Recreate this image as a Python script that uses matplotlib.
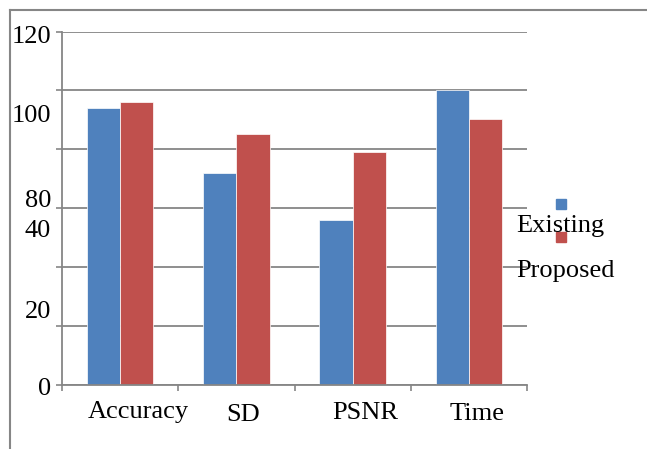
import matplotlib
matplotlib.use("Agg")
import matplotlib.pyplot as plt
from matplotlib.lines import Line2D
from matplotlib.patches import Rectangle

categories = ["Accuracy", "SD", "PSNR", "Time"]
existing = [94.2, 72.1, 56.1, 100.0]
proposed = [96.2, 85.3, 79.2, 90.2]
series_names = ["Existing", "Proposed"]
ytick_values = [0, 20, 40, 60, 80, 100, 120]
# y labels as they appear (misplaced in the reference), with pixel baselines
ylabel_texts = ["120", "100", "80", "40", "20", "0"]
ylabel_baselines = [43, 122, 207, 237, 318, 395]
xlabel_offsets = [0.154, 1.057, 2.106, 3.07]
xlabel_baselines = [418, 421, 419, 420]

W, H = 647, 449
BLUE = "#4F81BD"
RED = "#C0504D"
GRAY = "#868686"
FONT = "Liberation Serif"

fig = plt.figure(figsize=(W / 100, H / 100), dpi=100)
fig.patch.set_facecolor("white")

def fx(x):
    return x / W

def fy(y):
    return 1 - y / H

ax = fig.add_axes([fx(62), fy(385), fx(527) - fx(62), fy(31.5) - fy(385)])
ax.set_xlim(-0.5, 3.5)
ax.set_ylim(0, 120)

bw = 0.285
xs = list(range(len(categories)))
ax.bar([x - bw / 2 for x in xs], existing, width=bw, color=BLUE,
       edgecolor="white", linewidth=0.5, zorder=3)
ax.bar([x + bw / 2 for x in xs], proposed, width=bw, color=RED,
       edgecolor="white", linewidth=0.5, zorder=3)

ax.set_yticks(ytick_values)
ax.set_yticklabels([])
ax.set_xticks([x - 0.5 for x in xs] + [3.5])
ax.set_xticklabels([])
ax.tick_params(axis="both", direction="out", length=4, width=1.2, color=GRAY)
ax.yaxis.grid(True, color=GRAY, linewidth=1.3, zorder=0)
ax.set_axisbelow(True)
for s in ["top", "right"]:
    ax.spines[s].set_visible(False)
for s in ["left", "bottom"]:
    ax.spines[s].set_color(GRAY)
    ax.spines[s].set_linewidth(1.3)
ax.spines["bottom"].set_zorder(4)

# y labels
for t, yb in zip(ylabel_texts, ylabel_baselines):
    fig.text(fx(51), fy(yb), t, ha="right", va="baseline",
             family=FONT, fontsize=19)

# x labels
for lab, xo, yb in zip(categories, xlabel_offsets, xlabel_baselines):
    xf = fig.transFigure.inverted().transform(ax.transData.transform((xo, 0)))[0]
    fig.text(xf, fy(yb), lab, ha="center", va="baseline",
             family=FONT, fontsize=19)

# legend (manual, as in reference)
for c, y0 in zip([BLUE, RED], [199, 232]):
    fig.patches.append(Rectangle((fx(556), fy(y0 + 10)), fx(10), 10 / H,
                                 transform=fig.transFigure, color=c, zorder=5))
for name, yb in zip(series_names, [232, 277]):
    fig.text(fx(516), fy(yb), name, ha="left", va="baseline",
             family=FONT, fontsize=19, zorder=6)

# outer frame
fig.add_artist(Line2D([fx(10), fx(10)], [fy(10), fy(449)], color=GRAY,
                      linewidth=1.5, transform=fig.transFigure))
fig.add_artist(Line2D([fx(10), fx(647)], [fy(10), fy(10)], color=GRAY,
                      linewidth=1.5, transform=fig.transFigure))

fig.savefig("out.png", dpi=100, facecolor="white")
